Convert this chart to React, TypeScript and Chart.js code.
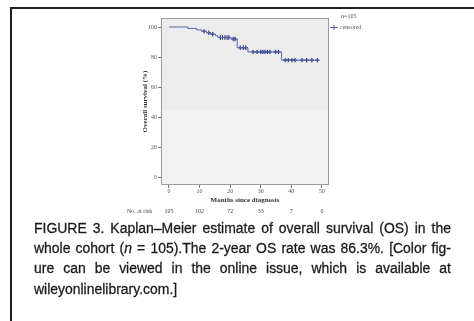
import React, { useEffect, useRef } from 'react';
import { Chart, registerables } from 'chart.js';

Chart.register(...registerables);

// Kaplan–Meier step points (months, survival %)
const eventTimes = [0, 6.2, 9.0, 10.7, 12.3, 13.6, 15.2, 16.0, 20.3, 22.3, 25.8, 36.8];
const survivalPct = [100, 99.0, 98.1, 97.1, 96.2, 95.2, 94.2, 93.0, 92.0, 86.2, 83.4, 77.9];
const lastFollowUp = 48.7;
const censorTimes = [11.5, 13.0, 14.3, 16.8, 17.5, 18.3, 19.0, 19.6, 21.0, 21.6, 23.3, 24.3, 25.1,
  27.5, 28.8, 30.0, 30.7, 31.4, 32.2, 33.0, 34.8, 35.8, 38.0, 39.0, 40.2, 41.2, 43.5, 45.0, 46.7, 48.5];
const xTicks = [0, 10, 20, 30, 40, 50];
const yTicks = [0, 20, 40, 60, 80, 100];
const atRisk = ['105', '102', '72', '33', '7', '0'];
const atRiskLabel = 'No. at risk';
const legendN = 'n=105';
const legendCensored = 'censored';
const xTitle = 'Months since diagnosis';
const yTitle = 'Overall survival (%)';

const captionLines = [
  'FIGURE 3. Kaplan–Meier estimate of overall survival (OS) in the',
  'whole cohort (#n# = 105).The 2-year OS rate was 86.3%. [Color fig-',
  'ure can be viewed in the online issue, which is available at',
  'wileyonlinelibrary.com.]',
];

function survivalAt(t: number): number {
  let s = survivalPct[0];
  for (let i = 0; i < eventTimes.length; i++) if (eventTimes[i] <= t) s = survivalPct[i];
  return s;
}

const SERIF = "'Liberation Serif', 'DejaVu Serif', serif";

const decorPlugin = {
  id: 'decor',
  beforeDatasetsDraw(chart: any) {
    const { ctx, chartArea: a } = chart;
    ctx.save();
    ctx.fillStyle = '#f1f1f1';
    ctx.fillRect(a.left, a.top, a.right - a.left, a.bottom - a.top);
    ctx.fillStyle = '#ececec';
    ctx.fillRect(a.left, a.top, a.right - a.left, (a.bottom - a.top) * 0.55);
    ctx.restore();
  },
  afterDraw(chart: any) {
    const { ctx, chartArea: a, scales } = chart;
    ctx.save();
    ctx.strokeStyle = '#9a9a9a';
    ctx.lineWidth = 1;
    ctx.strokeRect(a.left + 0.5, a.top + 0.5, a.right - a.left - 1, a.bottom - a.top - 1);

    // number at risk row
    ctx.fillStyle = '#444';
    ctx.font = `6px ${SERIF}`;
    ctx.textBaseline = 'middle';
    const yRow = 211;
    ctx.textAlign = 'left';
    ctx.fillText(atRiskLabel, 127, yRow);
    ctx.textAlign = 'center';
    xTicks.forEach((t, i) => {
      ctx.fillText(atRisk[i], scales.x.getPixelForValue(t), yRow);
    });

    // legend
    ctx.textAlign = 'left';
    ctx.fillStyle = '#555';
    ctx.font = `6px ${SERIF}`;
    ctx.fillText(legendN, 341, 16);
    ctx.fillText(legendCensored, 340, 27);
    ctx.strokeStyle = '#5a67ad';
    ctx.beginPath();
    ctx.moveTo(330, 27.5);
    ctx.lineTo(338, 27.5);
    ctx.moveTo(334, 25);
    ctx.lineTo(334, 30);
    ctx.stroke();
    ctx.restore();
  },
};

function KMChart() {
  const ref = useRef<HTMLCanvasElement>(null);
  useEffect(() => {
    if (!ref.current) return;
    const lineData = eventTimes.map((t, i) => ({ x: t, y: survivalPct[i] }));
    lineData.push({ x: lastFollowUp, y: survivalAt(lastFollowUp) });
    const censorData = censorTimes.map((t) => ({ x: t, y: survivalAt(t) }));
    const tickFont = { family: SERIF, size: 6 };
    const titleFont = { family: SERIF, size: 7, weight: 'bold' as const };
    const chart = new Chart(ref.current, {
      type: 'line',
      data: {
        datasets: [
          {
            data: lineData,
            borderColor: '#5a67ad',
            borderWidth: 1,
            stepped: true,
            pointRadius: 0,
            fill: false,
          },
          {
            data: censorData,
            showLine: false,
            pointStyle: 'cross',
            pointRadius: 2.2,
            borderColor: '#2f3d8c',
            pointBorderWidth: 1.2,
            backgroundColor: '#2f3d8c',
          } as any,
        ],
      },
      options: {
        animation: false,
        responsive: false,
        devicePixelRatio: 1,
        layout: { padding: { left: 139, top: 18, right: 145, bottom: 117 } },
        plugins: { legend: { display: false }, tooltip: { enabled: false } },
        scales: {
          x: {
            type: 'linear',
            min: -2.6,
            max: 52.3,
            afterBuildTicks: (s: any) => { s.ticks = xTicks.map((v) => ({ value: v })); },
            afterFit: (s: any) => { s.height = 19; },
            ticks: { font: tickFont, color: '#555', padding: 0, maxRotation: 0, autoSkip: false },
            grid: { drawOnChartArea: false, tickLength: 3, color: '#777' },
            border: { display: false },
            title: { display: true, text: xTitle, font: titleFont, color: '#333', padding: 0 },
          },
          y: {
            type: 'linear',
            min: -5.3,
            max: 106,
            afterBuildTicks: (s: any) => { s.ticks = yTicks.map((v) => ({ value: v })); },
            afterFit: (s: any) => { s.width = 22; },
            ticks: { font: tickFont, color: '#555', padding: 1, autoSkip: false },
            grid: { drawOnChartArea: false, tickLength: 3, color: '#777' },
            border: { display: false },
            title: { display: true, text: yTitle, font: titleFont, color: '#333', padding: { top: 2, bottom: 0 } },
          },
        },
      },
      plugins: [decorPlugin],
    });
    return () => chart.destroy();
  }, []);
  return (
    <canvas
      ref={ref}
      width={474}
      height={321}
      style={{ position: 'absolute', left: 0, top: 0, width: 474, height: 321 }}
    />
  );
}

function renderWord(word: string, key: number) {
  const parts = word.split('#');
  return (
    <span key={key} style={{ whiteSpace: 'pre' }}>
      {parts.map((p, i) => (i % 2 === 1 ? <i key={i}>{p}</i> : <React.Fragment key={i}>{p}</React.Fragment>))}
    </span>
  );
}

const CAPTION_SCALE = 0.9;
const CAPTION_WIDTH = 417;

export default function App() {
  return (
    <div style={{ position: 'fixed', left: 0, top: 0, width: 474, height: 321, background: '#fff', overflow: 'hidden' }}>
      <div
        style={{
          position: 'absolute', left: 10, top: 7, width: 464, height: 314,
          borderTop: '2px solid #1e1e1e', borderLeft: '2px solid #1e1e1e', boxSizing: 'border-box',
        }}
      />
      <KMChart />
      <div
        style={{
          position: 'absolute', left: 34, top: 218, width: CAPTION_WIDTH / CAPTION_SCALE,
          transform: `scaleX(${CAPTION_SCALE})`, transformOrigin: '0 0',
          fontFamily: "'Liberation Sans', Arial, sans-serif", fontSize: 15.5, lineHeight: '20.2px', color: '#1a1a1a',
          WebkitTextStroke: '0.3px #1a1a1a',
        } as any}
      >
        {captionLines.map((l, i) => {
          const words = l.split(' ');
          return i < 3 ? (
            <div key={i} style={{ display: 'flex', justifyContent: 'space-between', whiteSpace: 'nowrap' }}>
              {words.map((w, j) => renderWord(w, j))}
            </div>
          ) : (
            <div key={i} style={{ whiteSpace: 'nowrap' }}>{renderWord(l, 0)}</div>
          );
        })}
      </div>
    </div>
  );
}
